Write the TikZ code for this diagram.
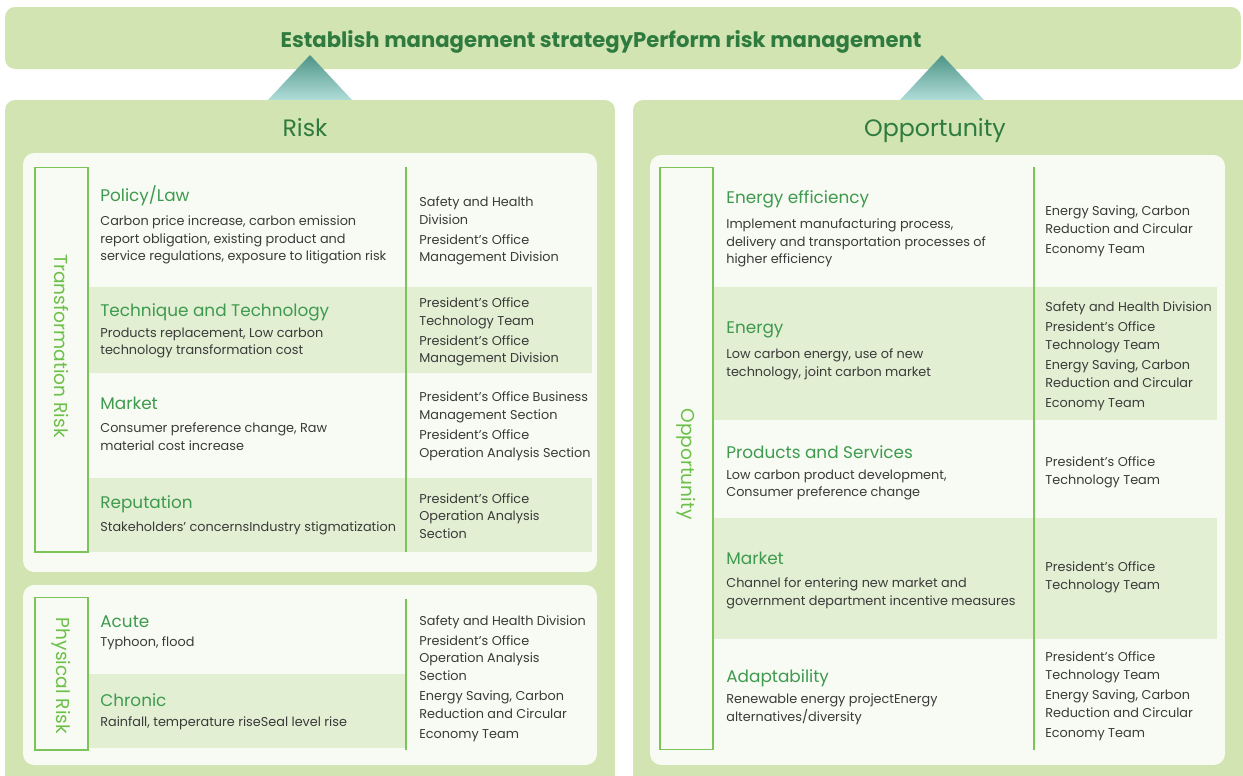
\documentclass[tikz,border=0pt]{standalone}
\usepackage{fontspec}
\setmainfont{Poppins}
\usepackage{tikz}
\usetikzlibrary{positioning, shadings}

\definecolor{bannergreen}{HTML}{D1E4B1}
\definecolor{headgreen}{HTML}{2F7B3F}
\definecolor{cardwhite}{HTML}{F8FBF3}
\definecolor{rowgreen}{HTML}{E2EFD3}
\definecolor{itemgreen}{HTML}{3E9A4F}
\definecolor{bodygray}{HTML}{3A3A3A}
\definecolor{sidegreen}{HTML}{6CC04A}
\definecolor{rulegreen}{HTML}{7CC35A}
\definecolor{tealtop}{HTML}{4E9486}
\definecolor{tealbottom}{HTML}{B0DDD9}

\tikzset{
  box/.style={rectangle, inner sep=0, outer sep=0},
  panel/.style={box, fill=bannergreen, rounded corners=0.2cm},
  card/.style={box, fill=cardwhite, rounded corners=0.22cm},
  sidebox/.style={box, draw=rulegreen, line width=0.6pt},
  shaderow/.style={box, fill=rowgreen},
  headtext/.style={text=headgreen, font=\fontsize{13.5}{16}\selectfont},
  itemtitle/.style={anchor=west, inner sep=0, text=itemgreen, font=\fontsize{9.6}{12}\selectfont},
  itemtext/.style={anchor=west, inner sep=0, align=left, text=bodygray, font=\fontsize{7.3}{10.1}\selectfont},
  sidetext/.style={rotate=-90, text=sidegreen, font=\fontsize{10.6}{12}\selectfont},
  divider/.style={draw=rulegreen, line width=0.6pt}
}

\begin{document}
\begin{tikzpicture}[x=0.02cm, y=-0.02cm]
    \clip (0,0) rectangle (1243,775);
    \fill[white] (0,0) rectangle (1243,775);

    % banner and the two pointers
    \node[panel, minimum width=24.72cm, minimum height=1.24cm] at (623,38) (banner) {};
    \node[headtext, font=\fontsize{12.05}{15}\selectfont\bfseries] at (601,41.5) (goal) {Establish management strategyPerform risk management};
    \shade[top color=tealtop, bottom color=tealbottom] (268,100) -- (310,55) -- (352,100) -- cycle;
    \shade[top color=tealtop, bottom color=tealbottom] (900,100) -- (942,55) -- (984,100) -- cycle;

    % panels
    \node[panel, minimum width=12.2cm, minimum height=14cm] at (310,450) (riskpanel) {};
    \node[panel, minimum width=12.4cm, minimum height=14cm] at (943,450) (opppanel) {};
    \node[headtext] at (305,128) (risktitle) {Risk};
    \node[headtext] at (935,130.5) (opptitle) {Opportunity};

    % cards
    \node[card, minimum width=11.48cm, minimum height=8.38cm] at (310,362.5) (transcard) {};
    \node[card, minimum width=11.48cm, minimum height=3.6cm] at (310,675) (physcard) {};
    \node[card, minimum width=11.5cm, minimum height=12.2cm] at (937.5,460) (oppcard) {};

    % shaded rows
    \node[shaderow, minimum width=10.08cm, minimum height=1.72cm] at (340,330) (techrow) {};
    \node[shaderow, minimum width=10.08cm, minimum height=1.48cm] at (340,515) (reputrow) {};
    \node[shaderow, minimum width=6.36cm, minimum height=1.48cm] at (247,711) (chronrow) {};
    \node[shaderow, minimum width=10.08cm, minimum height=2.66cm] at (965,353.5) (energyrow) {};
    \node[shaderow, minimum width=10.08cm, minimum height=2.42cm] at (965,578.5) (marketrow) {};

    % side labels
    \node[sidebox, minimum width=1.06cm, minimum height=7.7cm] at (61.5,359.5) (transbox) {};
    \node[sidebox, minimum width=1.06cm, minimum height=3.06cm] at (61.5,673.5) (physbox) {};
    \node[sidebox, minimum width=1.06cm, minimum height=11.66cm] at (686.5,458.5) (oppbox) {};
    \node[sidetext] at (61.5,346) (translabel) {Transformation Risk};
    \node[sidetext] at (61.5,676) (physlabel) {Physical Risk};
    \node[sidetext] at (686.5,464) (opplabel) {Opportunity};

    % column rules
    \coordinate (t1) at (406,167);
    \coordinate (t2) at (406,552);
    \coordinate (p1) at (406,599);
    \coordinate (p2) at (406,750);
    \coordinate (o1) at (1034,167);
    \coordinate (o2) at (1034,750);
    \draw[divider] (t1) -- (t2);
    \draw[divider] (p1) -- (p2);
    \draw[divider] (o1) -- (o2);

    % transformation risk
    \node[itemtitle] at (100,196) (policy) {Policy/Law};
    \node[itemtext] at (100,240) (policytxt) {Carbon price increase, carbon emission\\report obligation, existing product and\\service regulations, exposure to litigation risk};
    \node[itemtext] at (419,231) (policyown) {Safety and Health\\Division\\[1.3pt]President's Office\\Management Division};

    \node[itemtitle] at (100,312) (tech) {Technique and Technology};
    \node[itemtext] at (100,343) (techtxt) {Products replacement, Low carbon\\technology transformation cost};
    \node[itemtext] at (419,332) (techown) {President's Office\\Technology Team\\[1.3pt]President's Office\\Management Division};

    \node[itemtitle] at (100,403) (market) {Market};
    \node[itemtext] at (100,437) (markettxt) {Consumer preference change, Raw\\material cost increase};
    \node[itemtext] at (419,426) (marketown) {President's Office Business\\Management Section\\[1.3pt]President's Office\\Operation Analysis Section};

    \node[itemtitle] at (100,504) (reput) {Reputation};
    \node[itemtext] at (100,528) (reputtxt) {Stakeholders' concernsIndustry stigmatization};
    \node[itemtext] at (419,516) (reputown) {President's Office\\Operation Analysis\\Section};

    % physical risk
    \node[itemtitle] at (100,622) (acute) {Acute};
    \node[itemtext] at (100,643) (acutetxt) {Typhoon, flood};
    \node[itemtitle] at (100,700) (chronic) {Chronic};
    \node[itemtext] at (100,723) (chronictxt) {Rainfall, temperature riseSeal level rise};
    \node[itemtext] at (419,678.5) (physown) {Safety and Health Division\\[1.3pt]President's Office\\Operation Analysis\\Section\\[1.3pt]Energy Saving, Carbon\\Reduction and Circular\\[1.3pt]Economy Team};

    % opportunity
    \node[itemtitle] at (726,199) (effic) {Energy efficiency};
    \node[itemtext] at (726,243) (effictxt) {Implement manufacturing process,\\delivery and transportation processes of\\higher efficiency};
    \node[itemtext] at (1045,231) (efficown) {Energy Saving, Carbon\\Reduction and Circular\\[1.3pt]Economy Team};

    \node[itemtitle] at (726,330) (energy) {Energy};
    \node[itemtext] at (726,364) (energytxt) {Low carbon energy, use of new\\technology, joint carbon market};
    \node[itemtext] at (1045,356) (energyown) {Safety and Health Division\\[1.3pt]President's Office\\Technology Team\\[1.3pt]Energy Saving, Carbon\\Reduction and Circular\\[1.3pt]Economy Team};

    \node[itemtitle] at (726,452) (prod) {Products and Services};
    \node[itemtext] at (726,485) (prodtxt) {Low carbon product development,\\Consumer preference change};
    \node[itemtext] at (1045,472) (prodown) {President's Office\\Technology Team};

    \node[itemtitle] at (726,558) (oppmarket) {Market};
    \node[itemtext] at (726,593) (oppmarkettxt) {Channel for entering new market and\\government department incentive measures};
    \node[itemtext] at (1045,577) (oppmarketown) {President's Office\\Technology Team};

    \node[itemtitle] at (726,678) (adapt) {Adaptability};
    \node[itemtext] at (726,709) (adapttxt) {Renewable energy projectEnergy\\alternatives/diversity};
    \node[itemtext] at (1045,696) (adaptown) {President's Office\\Technology Team\\[1.3pt]Energy Saving, Carbon\\Reduction and Circular\\[1.3pt]Economy Team};
\end{tikzpicture}
\end{document}
